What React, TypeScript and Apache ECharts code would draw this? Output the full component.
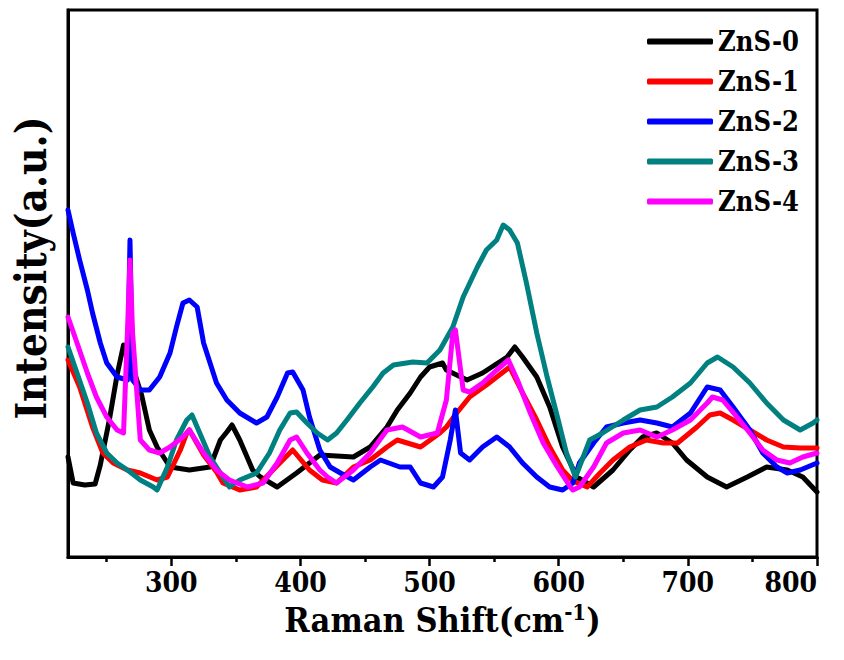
import React, { useEffect, useRef } from "react";
import * as echarts from "echarts";

// [Raman shift (cm-1), intensity (a.u.)]
const zns0: number[][] = [
  [220, 100], [224, 74], [233, 72], [241, 73], [245, 92], [252, 137], [258, 182], [263, 212],
  [266, 202], [272, 182], [277, 162], [283, 127], [289, 110], [299, 90], [314, 87], [330, 90],
  [338, 117], [343, 125], [347, 132], [353, 117], [363, 87], [369, 80], [382, 70], [397, 84],
  [415, 102], [441, 100], [454, 110], [467, 130], [475, 147], [485, 164], [493, 180], [500, 190],
  [510, 194], [513, 187], [529, 177], [541, 184], [560, 200], [566, 210], [572, 200], [583, 180],
  [593, 150], [603, 110], [614, 80], [627, 70], [642, 87], [655, 107], [665, 120], [676, 124],
  [688, 114], [699, 97], [715, 80], [730, 70], [746, 80], [761, 90], [777, 87], [789, 80], [800, 65],
];
const zns1: number[][] = [
  [220, 197], [229, 170], [239, 130], [247, 104], [255, 94], [266, 87], [276, 84], [289, 77],
  [297, 80], [307, 107], [312, 124], [314, 127], [325, 102], [335, 85], [340, 74], [353, 67],
  [366, 70], [384, 94], [394, 107], [407, 87], [417, 77], [428, 74], [441, 90], [454, 97],
  [467, 110], [475, 117], [493, 110], [508, 124], [513, 130], [521, 144], [531, 160], [544, 172],
  [562, 190], [572, 164], [583, 137], [593, 110], [603, 87], [611, 76], [622, 70], [632, 84],
  [642, 97], [655, 110], [668, 117], [681, 114], [692, 114], [707, 130], [717, 142], [725, 144],
  [735, 137], [748, 127], [761, 117], [774, 110], [787, 109], [800, 109],
];
const zns2: number[][] = [
  [220, 347], [224, 324], [229, 297], [235, 267], [239, 244], [245, 214], [250, 194], [258, 180],
  [266, 177], [268, 317], [270, 177], [276, 167], [283, 167], [291, 180], [299, 204], [304, 230],
  [309, 254], [314, 257], [320, 250], [325, 214], [330, 194], [335, 174], [343, 157], [353, 144],
  [366, 134], [374, 140], [382, 160], [390, 184], [394, 185], [402, 167], [407, 140], [415, 107],
  [423, 90], [431, 84], [441, 77], [454, 90], [462, 97], [477, 90], [485, 90], [493, 74],
  [503, 70], [510, 80], [516, 117], [520, 147], [524, 104], [531, 97], [541, 110], [552, 120],
  [562, 110], [572, 94], [583, 80], [593, 70], [603, 67], [611, 74], [616, 94], [627, 114],
  [637, 130], [650, 134], [663, 137], [676, 134], [688, 130], [702, 144], [715, 170], [725, 167],
  [735, 150], [748, 127], [758, 104], [769, 90], [777, 84], [787, 87], [800, 94],
];
const zns3: number[][] = [
  [220, 210], [227, 184], [235, 154], [242, 124], [250, 104], [258, 94], [266, 87], [276, 77],
  [286, 70], [289, 67], [297, 90], [304, 117], [312, 137], [316, 142], [322, 124], [330, 100],
  [340, 80], [345, 70], [353, 77], [366, 84], [376, 104], [384, 127], [392, 144], [397, 145],
  [405, 134], [413, 124], [421, 117], [428, 124], [436, 137], [446, 154], [456, 170], [464, 184],
  [472, 192], [487, 195], [498, 194], [508, 207], [518, 230], [526, 260], [537, 290], [544, 307],
  [552, 317], [557, 332], [562, 327], [568, 314], [575, 274], [583, 224], [591, 180], [599, 140],
  [606, 104], [613, 80], [624, 117], [634, 124], [650, 137], [663, 147], [676, 150], [688, 160],
  [702, 174], [715, 194], [723, 200], [735, 190], [748, 174], [761, 154], [774, 137], [787, 127],
  [797, 134], [800, 137],
];
const zns4: number[][] = [
  [220, 240], [227, 214], [235, 184], [242, 160], [250, 140], [258, 127], [263, 124], [266, 224],
  [268, 297], [270, 224], [276, 117], [283, 107], [291, 104], [299, 110], [309, 120], [314, 127],
  [325, 104], [335, 87], [345, 77], [359, 70], [371, 74], [382, 94], [392, 117], [397, 120],
  [405, 104], [415, 87], [421, 80], [428, 74], [441, 87], [454, 104], [467, 127], [479, 130],
  [493, 120], [506, 124], [513, 157], [518, 224], [520, 227], [526, 167], [531, 165], [541, 174],
  [552, 187], [561, 197], [568, 177], [578, 144], [588, 114], [599, 90], [609, 70], [611, 67],
  [616, 70], [627, 90], [637, 114], [650, 124], [663, 127], [676, 120], [688, 127], [702, 137],
  [715, 154], [719, 160], [727, 157], [738, 140], [748, 124], [758, 107], [769, 97], [779, 94],
  [789, 100], [800, 104],
];

const seriesNames = ["ZnS-0", "ZnS-1", "ZnS-2", "ZnS-3", "ZnS-4"];
const seriesColors = ["#000000", "#ff0000", "#0000ff", "#008080", "#ff00ff"];
const majorTicks = [300, 400, 500, 600, 700, 800];
const minorTicks = [250, 350, 450, 550, 650, 750];
const yTitle = "Intensity(a.u.)";

const SERIF_C = "DejaVu Serif Condensed";

export default function App() {
  const ref = useRef<HTMLDivElement>(null);
  useEffect(() => {
    if (!ref.current) return;
    const chart = echarts.init(ref.current, undefined, { renderer: "svg" });
    const allData = [zns0, zns1, zns2, zns3, zns4];
    chart.setOption({
      animation: false,
      backgroundColor: "#ffffff",
      grid: {
        left: 68,
        right: 27,
        top: 10,
        bottom: 103,
        show: true,
        borderColor: "#000",
        borderWidth: 3,
        backgroundColor: "transparent",
      },
      legend: {
        orient: "vertical",
        left: 642,
        top: 22,
        itemWidth: 66,
        itemHeight: 6,
        itemGap: 11,
        icon: "roundRect",
        textStyle: {
          fontFamily: SERIF_C,
          fontWeight: "bold",
          fontSize: 27,
          color: "#000",
          lineHeight: 29,
        },
        data: seriesNames,
      },
      graphic: [
        {
          type: "text",
          x: 31,
          y: 268,
          rotation: Math.PI / 2,
          style: {
            text: yTitle,
            fontFamily: SERIF_C,
            fontWeight: "bold",
            fontSize: 42,
            fill: "#000",
            align: "center",
            verticalAlign: "middle",
          },
        },
      ],
      xAxis: [
        {
          type: "value",
          min: 220,
          max: 800,
          position: "bottom",
          axisLine: { show: true, lineStyle: { color: "#000", width: 3 } },
          axisTick: {
            show: true,
            inside: false,
            length: 9,
            customValues: majorTicks,
            lineStyle: { color: "#000", width: 2.5 },
          },
          axisLabel: {
            customValues: majorTicks,
            fontFamily: SERIF_C,
            fontWeight: "bold",
            fontSize: 28,
            color: "#000",
            margin: 11,
            alignMaxLabel: "right",
          },
          splitLine: { show: false },
          name: "Raman Shift(cm{sup|-1})",
          nameLocation: "middle",
          nameGap: 44,
          nameTextStyle: {
            fontFamily: SERIF_C,
            fontWeight: "bold",
            fontSize: 34,
            color: "#000",
            rich: {
              sup: {
                fontFamily: SERIF_C,
                fontWeight: "bold",
                fontSize: 22,
                color: "#000",
                verticalAlign: "bottom",
                padding: [0, 0, 15, 0],
              },
            },
          },
        },
        {
          type: "value",
          min: 220,
          max: 800,
          position: "bottom",
          axisLine: { show: false },
          axisTick: {
            show: true,
            inside: false,
            length: 5,
            customValues: minorTicks,
            lineStyle: { color: "#000", width: 2.5 },
          },
          axisLabel: { show: false },
          splitLine: { show: false },
        },
      ],
      yAxis: {
        type: "value",
        min: 0,
        max: 547,
        axisLine: { show: true, lineStyle: { color: "#000", width: 3 } },
        axisTick: { show: false },
        axisLabel: { show: false },
        splitLine: { show: false },
      },
      series: seriesNames.map((name, i) => ({
        name,
        type: "line",
        xAxisIndex: 0,
        data: allData[i],
        showSymbol: false,
        symbol: "none",
        smooth: false,
        lineStyle: { color: seriesColors[i], width: 5, join: "round", cap: "round" },
        itemStyle: { color: seriesColors[i] },
        z: 2 + i,
      })),
    });
    return () => chart.dispose();
  }, []);
  return (
    <div
      ref={ref}
      style={{ position: "absolute", left: 0, top: 0, width: 844, height: 660 }}
    />
  );
}
